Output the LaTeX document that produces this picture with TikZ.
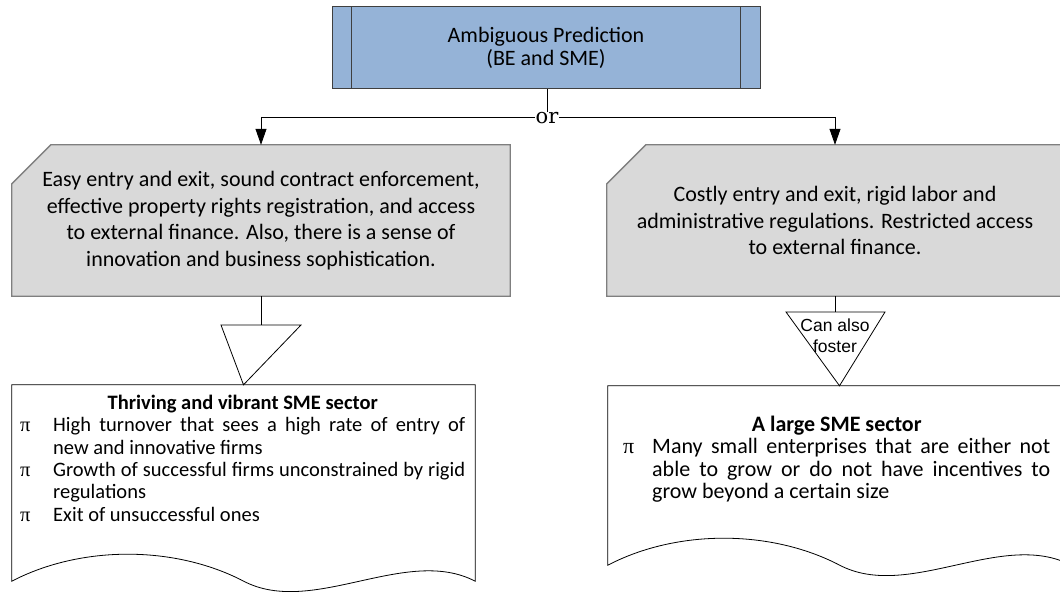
\documentclass[tikz,border=0pt]{standalone}
\usepackage{fontspec}
\newfontfamily\bodyfont{Carlito}
\newfontfamily\labelfont{Liberation Sans}
\newfontfamily\orfont{DejaVu Serif}
\newfontfamily\pifont{Liberation Serif}
\usetikzlibrary{arrows.meta,backgrounds}
\definecolor{headblue}{HTML}{95B3D7}
\definecolor{headline}{HTML}{3F3F3F}
\definecolor{condfill}{HTML}{D9D9D9}
\definecolor{condline}{HTML}{7F7F7F}
\newlength\pindent
\newcommand\pitem[1]{\par\noindent\hangindent=\pindent\hangafter=1\makebox[\pindent][l]{\pifont π}#1\par}
\tikzset{
  headbox/.style={draw=headline, fill=headblue, line width=1pt, align=center,
    font=\bodyfont\fontsize{22}{23}\selectfont},
  condbox/.style={inner sep=0pt, align=center,
    font=\bodyfont\fontsize{22}{26.5}\selectfont},
  condshape/.style={draw=condline, fill=condfill, line width=1.3pt},
  docframe/.style={draw=black, fill=white, line width=0.8pt},
  doctext/.style={anchor=north west, inner sep=0pt, align=justify},
  flowline/.style={draw=black, line width=0.8pt},
  flowarrow/.style={flowline, -{Triangle[length=16pt,width=11pt]}},
  gate/.style={draw=black, fill=white, line width=0.8pt},
}
\begin{document}
\begin{tikzpicture}[x=1pt,y=-1pt]
\useasboundingbox (0,0) rectangle (1060,607);

% prediction header
\node[headbox, minimum width=428pt, minimum height=82pt] (pred) at (546,48)
  {\rule[-4pt]{0pt}{4pt}Ambiguous Prediction\\(BE and SME)};
\draw[headline, line width=1pt] ([xshift=20pt]pred.north west) -- ([xshift=20pt]pred.south west);
\draw[headline, line width=1pt] ([xshift=-20pt]pred.north east) -- ([xshift=-20pt]pred.south east);

% branching line with the "or" label
\coordinate (jl) at (261,117);
\coordinate (jr) at (835,117);
\draw[flowline] (jl) -- (jr);
\node[fill=white, inner sep=1pt, anchor=base, font=\orfont\fontsize{21}{21}\selectfont] (or) at (547,124) {or};
\draw[flowline] (pred.south -| or.north) -- (or.north);

% conditions
\node[condbox, minimum width=498pt, minimum height=151pt] (easy) at (261,220.5)
  {Easy entry and exit, sound contract enforcement,\\effective property rights registration, and access\\to external finance. Also, there is a sense of\\innovation and business sophistication.};
\node[condbox, minimum width=456pt, minimum height=151pt] (costly) at (835,220.5)
  {Costly entry and exit, rigid labor and\\administrative regulations. Restricted access\\to external finance.};
\begin{scope}[on background layer]
  \draw[condshape] ([yshift=-39pt]easy.north west) -- ([xshift=39pt]easy.north west)
    -- (easy.north east) -- (easy.south east) -- (easy.south west) -- cycle;
  \draw[condshape] ([yshift=-39pt]costly.north west) -- ([xshift=39pt]costly.north west)
    -- (costly.north east) -- (costly.south east) -- (costly.south west) -- cycle;
\end{scope}

\draw[flowarrow] (jl) -- (easy.north);
\draw[flowarrow] (jr) -- (costly.north);

% outcome frames
\node[minimum width=463pt, minimum height=196pt, inner sep=0pt] (thrivebox) at (243.5,483) {};
\node[minimum width=463pt, minimum height=179pt, inner sep=0pt] (largebox) at (839.5,475.5) {};
\path[docframe] (thrivebox.south west) -- (thrivebox.north west) -- (thrivebox.north east) -- (thrivebox.south east)
  .. controls ++(-69,-36) and ++(69,36) .. ([xshift=-231.5pt]thrivebox.south east)
  .. controls ++(-69,-36) and ++(69,-36) .. (thrivebox.south west) -- cycle;
\path[docframe] (largebox.south west) -- (largebox.north west) -- (largebox.north east) -- (largebox.south east)
  .. controls ++(-69,-36) and ++(69,36) .. ([xshift=-231.5pt]largebox.south east)
  .. controls ++(-69,-36) and ++(69,-36) .. (largebox.south west) -- cycle;

% left branch gate
\coordinate (ltop) at (261,325);
\draw[flowline] (easy.south) -- (ltop);
\draw[gate] (221,325) -- (301,325) -- (thrivebox.north) -- cycle;

% right branch gate
\coordinate (rtop) at (835,312);
\draw[flowline] (costly.south) -- (rtop);
\draw[gate] (786,312) -- (885,312) -- (largebox.north) -- cycle;
\node[align=center, inner sep=0pt, font=\labelfont\fontsize{17.5}{21}\selectfont] (foster) at (835,336) {Can also\\foster};

% outcome texts
\node[doctext, text width=445pt, font=\bodyfont\fontsize{20.5}{22.3}\selectfont] (thrive) at (20,395) {%
  \setlength\pindent{33pt}%
  {\centering\bfseries Thriving and vibrant SME sector\par}
  \pitem{High turnover that sees a high rate of entry of\linebreak new and innovative firms}
  \pitem{Growth of successful firms unconstrained by rigid\linebreak regulations}
  \pitem{Exit of unsuccessful ones}};
\node[doctext, text width=427pt, font=\bodyfont\fontsize{22}{22.3}\selectfont] (large) at (623,416) {%
  \setlength\pindent{29pt}%
  {\centering\bfseries A large SME sector\par}
  \pitem{Many small enterprises that are either not\linebreak able to grow or do not have incentives to\linebreak grow beyond a certain size}};
\end{tikzpicture}
\end{document}
